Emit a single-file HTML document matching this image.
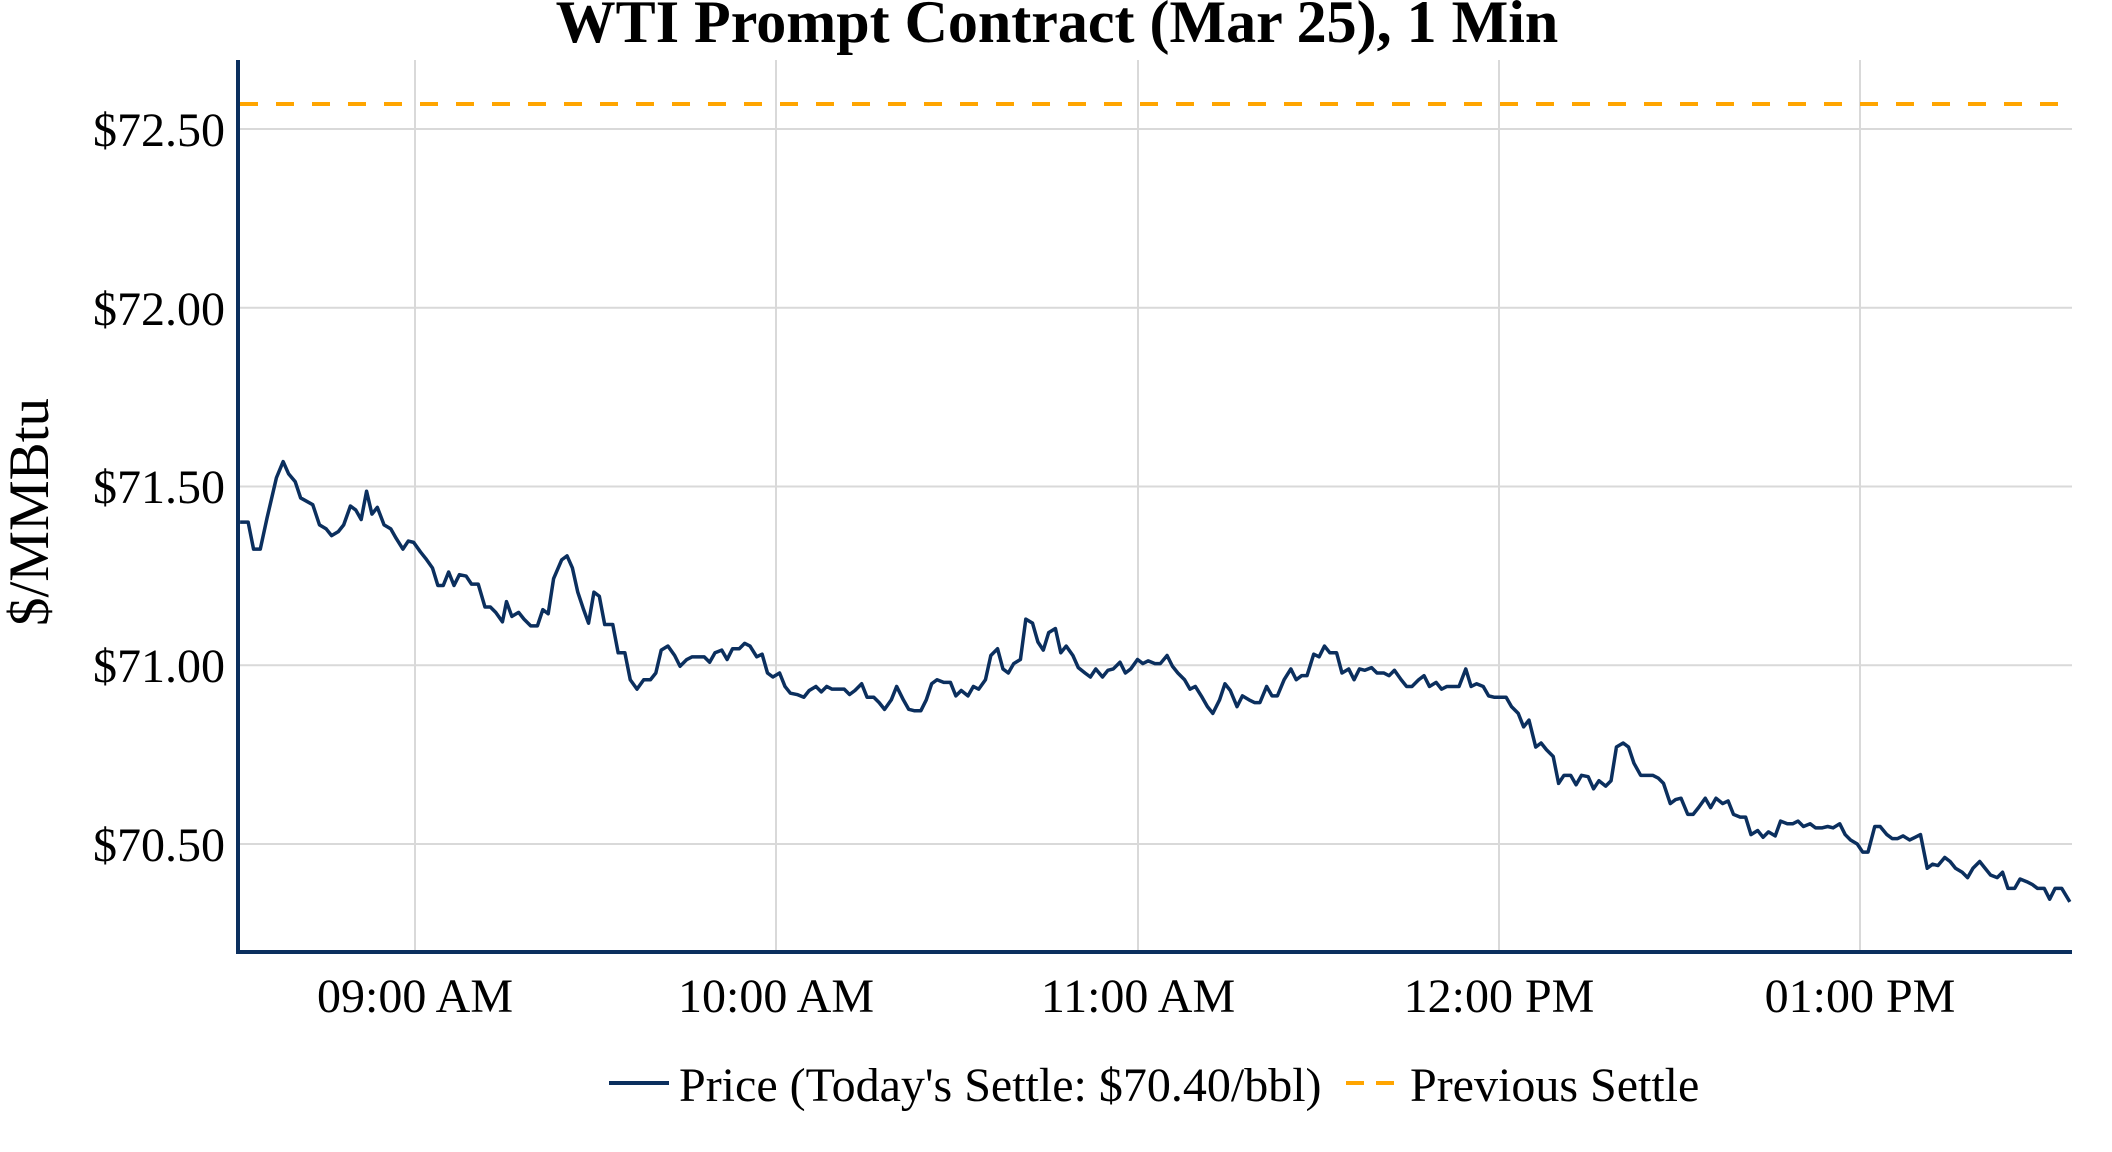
<!DOCTYPE html>
<html><head><meta charset="utf-8"><style>
html,body{margin:0;padding:0;background:#fff;}
svg{display:block;font-family:"Liberation Serif","Times New Roman",serif;}
</style></head><body>
<svg width="2112" height="1152" viewBox="0 0 2112 1152" xmlns="http://www.w3.org/2000/svg">
<rect width="2112" height="1152" fill="#fff"/>
<g stroke="#d9d9d9" stroke-width="2">
<line x1="240" y1="129" x2="2072" y2="129"/>
<line x1="240" y1="307.75" x2="2072" y2="307.75"/>
<line x1="240" y1="486.5" x2="2072" y2="486.5"/>
<line x1="240" y1="665.25" x2="2072" y2="665.25"/>
<line x1="240" y1="844" x2="2072" y2="844"/>
<line x1="415" y1="60" x2="415" y2="950"/>
<line x1="776" y1="60" x2="776" y2="950"/>
<line x1="1138" y1="60" x2="1138" y2="950"/>
<line x1="1499" y1="60" x2="1499" y2="950"/>
<line x1="1860" y1="60" x2="1860" y2="950"/>
</g>
<line x1="240" y1="104" x2="2072" y2="104" stroke="#ffa500" stroke-width="4" stroke-dasharray="18,18"/>
<g transform="matrix(1.3454,0,0,1.3465,1.96,-0.26)">
<polyline fill="none" stroke="#0b2f5e" stroke-width="3.5" vector-effect="non-scaling-stroke" stroke-linejoin="round" points="177,388 183,388 187,408 192,408 197,385 204,355 209,343 213,352 218,358 222,370 231,375 236,390 241,393 245,398 250,395 254,390 259,376 263,379 267,386 271,365 275,382 279,377 284,390 289,393 293,400 298,408 302,402 306,403 311,410 315,415 320,422 324,435 328,435 332,425 336,435 340,427 345,428 349,434 354,434 359,451 363,451 367,455 372,462 375,447 379,458 384,455 388,460 393,465 398,465 402,453 406,456 410,430 416,416 420,413 424,422 428,440 432,452 436,463 440,440 444,443 448,464 454,464 458,485 463,485 467,505 472,512 477,505 482,505 486,500 490,483 495,480 500,487 504,495 509,490 513,488 518,488 522,488 526,492 530,485 535,483 539,490 543,482 548,482 552,478 556,480 561,488 565,486 569,500 573,503 578,500 582,510 586,515 591,516 596,518 600,513 605,510 609,514 613,510 617,512 621,512 626,512 630,516 634,513 639,508 643,518 648,518 652,522 656,527 661,520 665,510 670,520 674,527 678,528 683,528 687,520 691,508 695,505 700,507 705,507 709,517 713,513 718,517 722,510 726,512 731,505 735,487 740,482 744,497 748,500 752,493 757,490 761,460 766,463 770,477 774,483 778,470 783,467 787,485 791,480 796,487 800,496 805,500 809,503 813,497 818,503 822,498 826,497 831,492 835,500 839,497 844,490 848,493 852,491 857,493 861,493 866,487 870,495 874,500 879,505 883,512 887,510 892,518 896,525 900,530 905,520 909,508 913,513 918,525 922,517 927,520 931,522 935,522 940,510 944,517 948,517 953,505 958,497 962,505 966,502 970,502 975,486 979,488 983,480 987,485 992,485 996,500 1001,497 1005,505 1009,497 1013,498 1018,496 1022,500 1027,500 1031,502 1035,498 1040,505 1044,510 1048,510 1053,505 1057,502 1061,510 1066,507 1070,512 1074,510 1079,510 1083,510 1088,497 1092,510 1096,508 1101,510 1105,517 1109,518 1114,518 1118,518 1122,525 1127,530 1131,540 1135,535 1140,555 1144,552 1148,557 1153,562 1157,582 1161,576 1166,576 1170,583 1174,576 1179,577 1183,586 1187,580 1192,584 1196,580 1200,555 1205,552 1209,555 1213,567 1218,576 1222,576 1227,576 1231,578 1235,582 1240,597 1244,594 1248,593 1253,605 1257,605 1261,600 1266,593 1270,600 1274,593 1279,597 1283,595 1287,605 1292,607 1296,607 1300,620 1305,617 1309,622 1313,618 1318,621 1322,610 1327,612 1331,612 1335,610 1339,614 1344,612 1348,615 1353,615 1357,614 1361,615 1366,612 1370,620 1374,624 1379,627 1383,633 1387,633 1392,614 1396,614 1401,620 1405,623 1409,623 1413,621 1418,624 1422,622 1426,620 1431,645 1435,642 1439,643 1444,637 1448,640 1452,645 1457,648 1461,652 1465,645 1470,640 1474,645 1478,650 1483,652 1487,648 1491,660 1496,660 1500,653 1505,655 1509,657 1513,660 1518,660 1522,668 1526,660 1531,660 1537,670"/>
</g>
<line x1="238" y1="60" x2="238" y2="954" stroke="#0b2f5e" stroke-width="4"/>
<line x1="236" y1="952" x2="2072" y2="952" stroke="#0b2f5e" stroke-width="4"/>
<g font-size="48" fill="#000" text-anchor="end">
<text x="225" y="146">$72.50</text>
<text x="225" y="325">$72.00</text>
<text x="225" y="503">$71.50</text>
<text x="225" y="682">$71.00</text>
<text x="225" y="861">$70.50</text>
</g>
<g font-size="48" fill="#000" text-anchor="middle">
<text x="415" y="1012">09:00 AM</text>
<text x="776" y="1012">10:00 AM</text>
<text x="1138" y="1012">11:00 AM</text>
<text x="1499" y="1012">12:00 PM</text>
<text x="1860" y="1012">01:00 PM</text>
</g>
<text transform="translate(48,512) rotate(-90)" font-size="57" text-anchor="middle" fill="#000">$/MMBtu</text>
<text x="1057" y="42" font-size="60" font-weight="bold" text-anchor="middle" fill="#000">WTI Prompt Contract (Mar 25), 1 Min</text>
<line x1="609" y1="1083" x2="669" y2="1083" stroke="#0b2f5e" stroke-width="4"/>
<text x="679" y="1101" font-size="48" fill="#000">Price (Today's Settle: $70.40/bbl)</text>
<line x1="1346" y1="1083" x2="1400" y2="1083" stroke="#ffa500" stroke-width="4" stroke-dasharray="18,12"/>
<text x="1410" y="1101" font-size="48" fill="#000">Previous Settle</text>
</svg>
</body></html>
